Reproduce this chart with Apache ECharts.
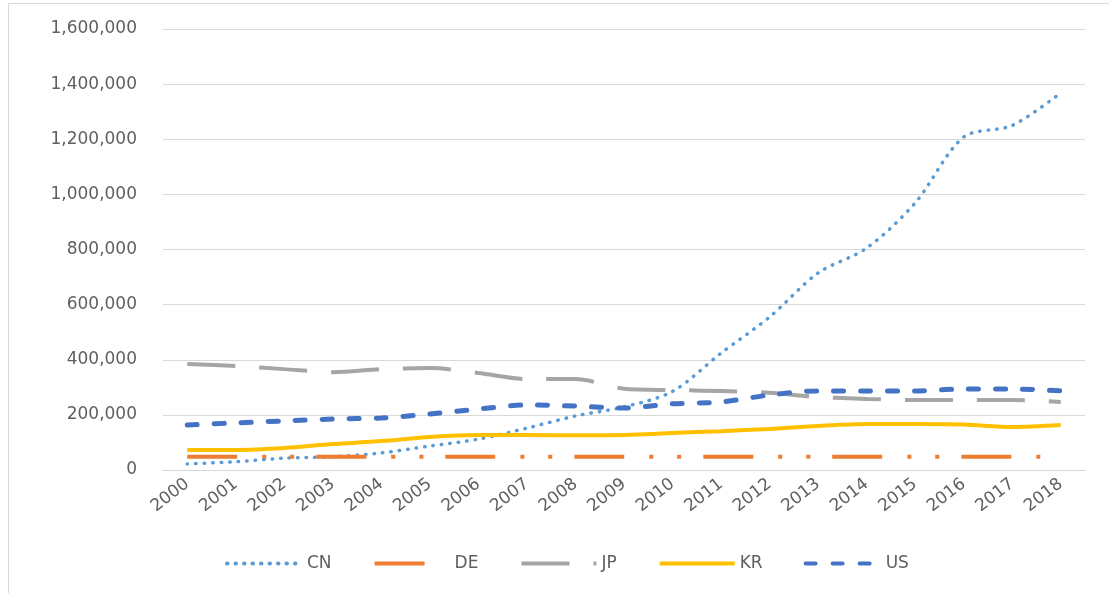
<!DOCTYPE html>
<html>
<head>
<meta charset="utf-8">
<script src="https://cdn.jsdelivr.net/npm/echarts@6/dist/echarts.min.js"></script>
<style>
  html, body { margin: 0; padding: 0; background: #fff; }
  #chart { width: 1109px; height: 593px; }
  #frame {
    position: absolute; left: 8px; top: 3px; width: 1120px; height: 620px;
    border: 1px solid #d9d9d9; pointer-events: none;
  }
</style>
</head>
<body>
<div id="chart"></div>
<div id="frame"></div>
<script>
// 年份
const years = ['2000', '2001', '2002', '2003', '2004', '2005', '2006', '2007', '2008', '2009',
  '2010', '2011', '2012', '2013', '2014', '2015', '2016', '2017', '2018'];

// 各国数值
const cnData = [22000, 30000, 43000, 48000, 62000, 87000, 112000, 152000, 196000, 229000,
  285000, 424000, 555000, 715000, 805000, 969000, 1208000, 1250000, 1368000];
const deData = [48000, 48000, 48000, 48000, 48000, 48000, 48000, 48000, 48000, 48000,
  48000, 48000, 48000, 48000, 48000, 48000, 48000, 48000, 48000];
const jpData = [385000, 377000, 366000, 355000, 366000, 370000, 352000, 330000, 330000, 295000,
  290000, 287000, 280000, 265000, 258000, 254000, 254000, 254000, 247000];
const krData = [73000, 73000, 80000, 94000, 105000, 120000, 127000, 127000, 126000, 127000,
  134000, 141000, 149000, 160000, 167000, 167000, 165000, 156000, 163000];
const usData = [163000, 171000, 178000, 185000, 189000, 203000, 221000, 236000, 232000, 225000,
  240000, 247000, 272000, 287000, 287000, 287000, 294000, 294000, 287000];

const myChart = echarts.init(document.getElementById('chart'));

const labelFont = { color: '#5f5f5f', fontSize: 17, fontFamily: 'DejaVu Sans' };

const option = {
  animation: false,
  grid: { left: 163, right: 24, top: 29, bottom: 123 },
  legend: {
    bottom: 16,
    left: 220,
    itemWidth: 75,
    itemHeight: 10,
    itemGap: 41,
    textStyle: labelFont,
    itemStyle: { opacity: 0 },
    lineStyle: { width: 4 },
    data: ['CN', 'DE', 'JP', 'KR', 'US']
  },
  xAxis: {
    type: 'category',
    data: years,
    boundaryGap: true,
    axisTick: { show: false },
    axisLine: { lineStyle: { color: '#d9d9d9', width: 1 } },
    axisLabel: Object.assign({ rotate: 38, margin: 12, interval: 0 }, labelFont)
  },
  yAxis: {
    type: 'value',
    min: 0,
    max: 1600000,
    interval: 200000,
    axisLine: { show: false },
    axisTick: { show: false },
    splitLine: { lineStyle: { color: '#d9d9d9', width: 1 } },
    axisLabel: Object.assign({
      margin: 26,
      formatter: v => v.toLocaleString('en-US')
    }, labelFont)
  },
  series: [
    {
      name: 'CN', type: 'line', data: cnData, smooth: 0.3, symbol: 'none',
      itemStyle: { color: '#5b9bd5' },
      lineStyle: { color: '#5b9bd5', width: 3.5, type: [0.5, 8], cap: 'round' }
    },
    {
      name: 'DE', type: 'line', data: deData, smooth: 0.3, symbol: 'none',
      itemStyle: { color: '#ed7d31' },
      lineStyle: { color: '#ed7d31', width: 4, type: [50, 25, 4, 24, 4, 22] }
    },
    {
      name: 'JP', type: 'line', data: jpData, smooth: 0.3, symbol: 'none',
      itemStyle: { color: '#a5a5a5' },
      lineStyle: { color: '#a5a5a5', width: 4, type: [48, 24] }
    },
    {
      name: 'KR', type: 'line', data: krData, smooth: 0.3, symbol: 'none',
      itemStyle: { color: '#ffc000' },
      lineStyle: { color: '#ffc000', width: 4 }
    },
    {
      name: 'US', type: 'line', data: usData, smooth: 0.3, symbol: 'none',
      itemStyle: { color: '#4472c4' },
      lineStyle: { color: '#4472c4', width: 5, type: [10, 17], cap: 'round' }
    }
  ]
};

myChart.setOption(option);
</script>
</body>
</html>
